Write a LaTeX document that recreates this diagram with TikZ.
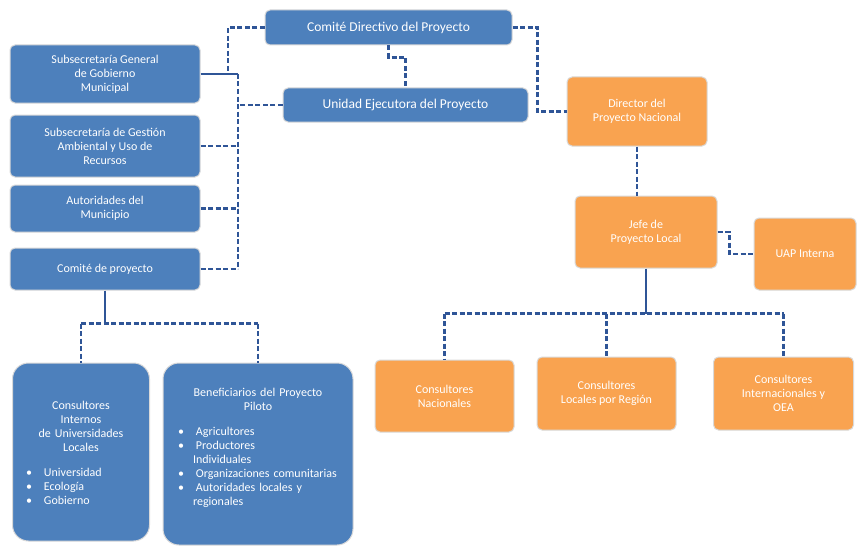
\documentclass[tikz,border=0pt]{standalone}
\usepackage{fontspec}
\setmainfont{Carlito}
\definecolor{boxblue}{HTML}{4D80BC}
\definecolor{boxorange}{HTML}{F9A350}
\definecolor{linkblue}{HTML}{2F5597}
\begin{document}
\begin{tikzpicture}[x=1pt,y=-1pt,
  bluebox/.style={draw=gray!30, line width=1pt, fill=boxblue, rounded corners=5pt,
    text=white, align=center, font=\fontsize{12}{14}\selectfont, inner sep=3pt},
  orangebox/.style={bluebox, fill=boxorange},
  bigbox/.style={bluebox, rounded corners=16pt, align=left},
  link/.style={draw=linkblue, line width=2.4pt, dash pattern=on 5pt off 2.5pt},
  solidlink/.style={draw=linkblue, line width=2.6pt}]
\useasboundingbox (0,0) rectangle (857,551);
\fill[white] (0,0) rectangle (857,551);

% left column
\node[bluebox, minimum width=190pt, minimum height=58pt] (l1) at (105,74)
  {Subsecretaría General\\ de Gobierno\\ Municipal};
\node[bluebox, minimum width=190pt, minimum height=62pt] (l2) at (105,146)
  {Subsecretaría de Gestión\\ Ambiental y Uso de\\ Recursos};
\node[bluebox, minimum width=190pt, minimum height=47pt] (l3) at (105,208.5)
  {Autoridades del\\ Municipio};
\node[bluebox, minimum width=190pt, minimum height=42pt] (l4) at (105,269)
  {Comité de proyecto};

% top
\node[bluebox, minimum width=247pt, minimum height=35pt, font=\fontsize{13.5}{15}\selectfont] (top) at (388.5,27.5)
  {Comité Directivo del Proyecto};
\node[bluebox, minimum width=245pt, minimum height=34pt, font=\fontsize{13.5}{15}\selectfont] (unit) at (405.5,105)
  {Unidad Ejecutora del Proyecto};

% orange
\node[orangebox, minimum width=140pt, minimum height=69pt] (o1) at (637,111.5)
  {Director del\\ Proyecto Nacional};
\node[orangebox, minimum width=142pt, minimum height=72pt] (o2) at (646,232)
  {Jefe de\\ Proyecto Local};
\node[orangebox, minimum width=102pt, minimum height=72pt] (o6) at (805,254)
  {UAP Interna};
\node[orangebox, minimum width=139pt, minimum height=72pt] (o3) at (444.5,396)
  {Consultores\\ Nacionales};
\node[orangebox, minimum width=139pt, minimum height=73pt] (o4) at (606.5,393.5)
  {Consultores\\ Locales por Región};
\node[orangebox, minimum width=140pt, minimum height=73pt] (o5) at (783.5,393.5)
  {Consultores\\ Internacionales y\\ OEA};

% bottom blue
\node[bigbox, minimum width=137pt, minimum height=178pt, text width=122pt] (b1) at (81,452)
  {\noindent\makebox[\linewidth][c]{\begin{tabular}{@{}c@{}}Consultores\\ Internos\\ de Universidades\\ Locales\end{tabular}}\par\vspace{12pt}
   \leftskip=6pt \textbullet\quad Universidad\\ \textbullet\quad Ecología\\ \textbullet\quad Gobierno\par};
\node[bigbox, minimum width=190pt, minimum height=182pt, text width=172pt] (b2) at (258,454)
  {\noindent\makebox[\linewidth][c]{\begin{tabular}{@{}c@{}}Beneficiarios del Proyecto\\ Piloto\end{tabular}}\par\vspace{12pt}
   \leftskip=6pt \textbullet\quad Agricultores\\ \textbullet\quad Productores\\ \hspace*{15pt}Individuales\\
   \textbullet\quad Organizaciones comunitarias\\ \textbullet\quad Autoridades locales y\\ \hspace*{15pt}regionales\par\vspace{14pt}};

% connectors left
\coordinate (bus) at (238,74);
\coordinate (bend) at (228,74);
\draw[solidlink] (l1.east) -- (bus);
\draw[link] (top.west) -| (bend);
\draw[link] (bus) -- (bus |- l4.east);
\draw[link] (l2.east) -- (l2.east -| bus);
\draw[link] (l3.east) -- (l3.east -| bus);
\draw[link] (l4.east) -- (l4.east -| bus);
\draw[link] (unit.west) -- (unit.west -| bus);

% top connectors
\draw[link] (top.south) -- ++(0,12) -| (unit.north);
\draw[link] (top.east) -- ++(25,0) |- (o1.west);
\draw[link] (o1.south) -- (o1.south |- o2.north);
\draw[link] (o2.east) -- ++(12,0) |- (o6.west);

% orange tree
\draw[solidlink] (o2.south) -- ++(0,45) coordinate (hub2);
\draw[link] (hub2 -| o3.north) -- (hub2 -| o5.north);
\draw[link] (hub2 -| o3.north) -- (o3.north);
\draw[link] (hub2 -| o4.north) -- (o4.north);
\draw[link] (hub2 -| o5.north) -- (o5.north);

% bottom left tree
\draw[solidlink] (l4.south) -- ++(0,33) coordinate (hub1);
\draw[link] (hub1 -| b1.north) -- (hub1 -| b2.north);
\draw[link] (hub1 -| b1.north) -- (b1.north);
\draw[link] (hub1 -| b2.north) -- (b2.north);
\end{tikzpicture}
\end{document}
